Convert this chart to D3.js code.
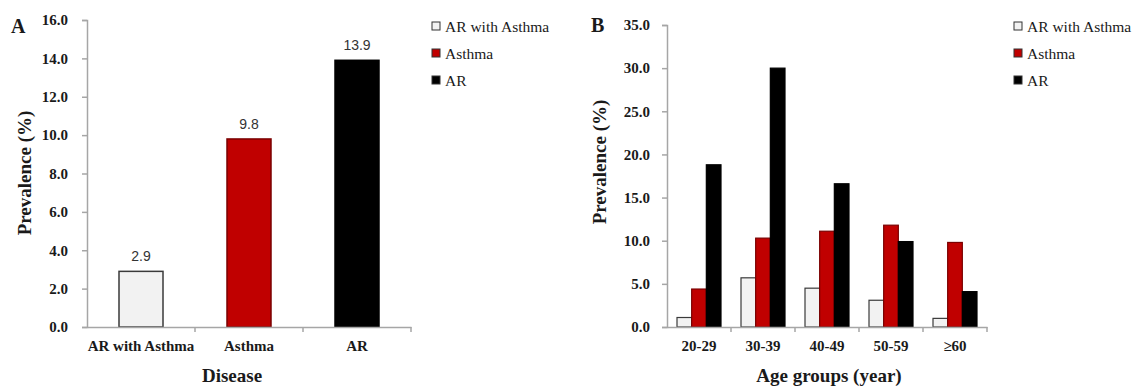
<!DOCTYPE html>
<html>
<head>
<meta charset="utf-8">
<script src="https://cdn.jsdelivr.net/npm/d3@7"></script>
<style>
  html, body { margin: 0; padding: 0; background: #fff; }
  svg { display: block; }
  .serif { font-family: "Liberation Serif", "Times New Roman", "DejaVu Serif", serif; }
</style>
</head>
<body>
<svg id="chart" width="1137" height="386"></svg>
<script>
// Panel A: overall prevalence by disease
const diseaseCategories = ["AR with Asthma", "Asthma", "AR"];
const diseaseValues = [2.9, 9.8, 13.9];
const diseaseTicks = [0, 2, 4, 6, 8, 10, 12, 14, 16];

// Panel B: prevalence by age group
const ageGroups = ["20-29", "30-39", "40-49", "50-59", "\u226560"];
const seriesNames = ["AR with Asthma", "Asthma", "AR"];
const arWithAsthmaByAge = [1.1, 5.7, 4.5, 3.1, 1.0];
const asthmaByAge = [4.4, 10.3, 11.1, 11.8, 9.8];
const arByAge = [18.8, 30.0, 16.6, 9.9, 4.1];
const ageTicks = [0, 5, 10, 15, 20, 25, 30, 35];

const fills = { "AR with Asthma": "#f2f2f2", "Asthma": "#c00000", "AR": "#000000" };
const strokes = { "AR with Asthma": "#3a3a3a", "Asthma": "#7a0000", "AR": "#000000" };
const axisColor = "#a6a6a6";
const serif = "'Liberation Serif', 'Times New Roman', 'DejaVu Serif', serif";

const svg = d3.select("#chart");

function styleAxis(g) {
  g.attr("font-family", null);
  g.select(".domain").attr("stroke", axisColor).attr("stroke-width", 1.5);
  g.selectAll(".tick line").attr("stroke", axisColor).attr("stroke-width", 1.5);
  g.selectAll(".tick text")
    .attr("class", "serif")
    .attr("fill", "#1a1a1a")
    .style("font-family", serif)
    .style("font-weight", "bold")
    .style("font-size", "15px");
}

function drawLegend(x0, y0) {
  const lg = svg.append("g").attr("transform", `translate(${x0},${y0})`);
  seriesNames.forEach((name, i) => {
    const row = lg.append("g").attr("transform", `translate(0,${i * 27})`);
    row.append("rect")
      .attr("x", 0).attr("y", -4).attr("width", 8).attr("height", 8)
      .attr("fill", fills[name]).attr("stroke", "#333").attr("stroke-width", 1);
    row.append("text")
      .attr("class", "serif")
      .attr("x", 13).attr("y", 5.5)
      .style("font-family", serif).style("font-size", "15.5px")
      .attr("fill", "#1a1a1a")
      .text(name);
  });
}

function drawSeparators(x, y0, domain) {
  const edges = domain.map(d => x(d)).concat([x(domain[domain.length - 1]) + x.step()]);
  svg.append("g").selectAll("line").data(edges.slice(1)).join("line")
    .attr("x1", d => d).attr("x2", d => d)
    .attr("y1", y0).attr("y2", y0 + 5)
    .attr("stroke", axisColor).attr("stroke-width", 1.5);
}

// ---------- Panel A ----------
const xA = d3.scaleBand().domain(diseaseCategories).range([87, 411]).padding(0);
const yA = d3.scaleLinear().domain([0, 16]).range([327, 20]);
const barWA = 44;

svg.append("g")
  .selectAll("rect").data(diseaseCategories).join("rect")
  .attr("x", (d) => xA(d) + (xA.bandwidth() - barWA) / 2)
  .attr("y", (d, i) => yA(diseaseValues[i]))
  .attr("width", barWA)
  .attr("height", (d, i) => yA(0) - yA(diseaseValues[i]))
  .attr("fill", d => fills[d])
  .attr("stroke", d => strokes[d])
  .attr("stroke-width", 1.5);

svg.append("g").selectAll("text").data(diseaseCategories).join("text")
  .attr("x", d => xA(d) + xA.bandwidth() / 2)
  .attr("y", (d, i) => yA(diseaseValues[i]) - 10)
  .attr("text-anchor", "middle")
  .style("font-family", "'Liberation Sans', Arial, sans-serif")
  .style("font-size", "14px")
  .attr("fill", "#333")
  .text((d, i) => diseaseValues[i].toFixed(1));

svg.append("g").attr("transform", "translate(87,0)")
  .call(d3.axisLeft(yA).tickValues(diseaseTicks).tickFormat(d3.format(".1f")).tickSize(5).tickPadding(14))
  .call(styleAxis);

svg.append("g").attr("transform", "translate(0,327)")
  .call(d3.axisBottom(xA).tickSize(0).tickPadding(13))
  .call(styleAxis);
drawSeparators(xA, 327, diseaseCategories);

function title(x, y, text, size, rotate) {
  const t = svg.append("text").attr("class", "serif")
    .style("font-family", serif)
    .style("font-weight", "bold").style("font-size", size + "px").attr("fill", "#1a1a1a")
    .text(text);
  if (rotate) t.attr("transform", `translate(${x},${y}) rotate(-90)`).attr("text-anchor", "middle");
  else t.attr("x", x).attr("y", y);
  return t;
}

title(232, 382, "Disease", 19).attr("text-anchor", "middle");
title(31, 173, "Prevalence (%)", 19, true);
title(11, 33, "A", 20);

drawLegend(432, 26);

// ---------- Panel B ----------
const xB = d3.scaleBand().domain(ageGroups).range([667, 987]).padding(0);
const groupW = 44;
const xInner = d3.scaleBand().domain(seriesNames).range([0, groupW]).padding(0);
const yB = d3.scaleLinear().domain([0, 35]).range([327, 25]);
const ageSeries = { "AR with Asthma": arWithAsthmaByAge, "Asthma": asthmaByAge, "AR": arByAge };

const groups = svg.append("g").selectAll("g").data(ageGroups).join("g")
  .attr("transform", d => `translate(${xB(d) + (xB.bandwidth() - groupW) / 2},0)`);

groups.selectAll("rect")
  .data((g, gi) => seriesNames.map(s => ({ s, v: ageSeries[s][gi] })))
  .join("rect")
  .attr("x", d => xInner(d.s))
  .attr("y", d => yB(d.v))
  .attr("width", xInner.bandwidth())
  .attr("height", d => yB(0) - yB(d.v))
  .attr("fill", d => fills[d.s])
  .attr("stroke", d => strokes[d.s])
  .attr("stroke-width", 1.2);

svg.append("g").attr("transform", "translate(667,0)")
  .call(d3.axisLeft(yB).tickValues(ageTicks).tickFormat(d3.format(".1f")).tickSize(5).tickPadding(12))
  .call(styleAxis);

svg.append("g").attr("transform", "translate(0,327)")
  .call(d3.axisBottom(xB).tickSize(0).tickPadding(13))
  .call(styleAxis);
drawSeparators(xB, 327, ageGroups);

title(829, 382, "Age groups (year)", 19).attr("text-anchor", "middle");
title(606, 162, "Prevalence (%)", 19, true);
title(591, 32, "B", 20);

drawLegend(1014, 26);
</script>
</body>
</html>
